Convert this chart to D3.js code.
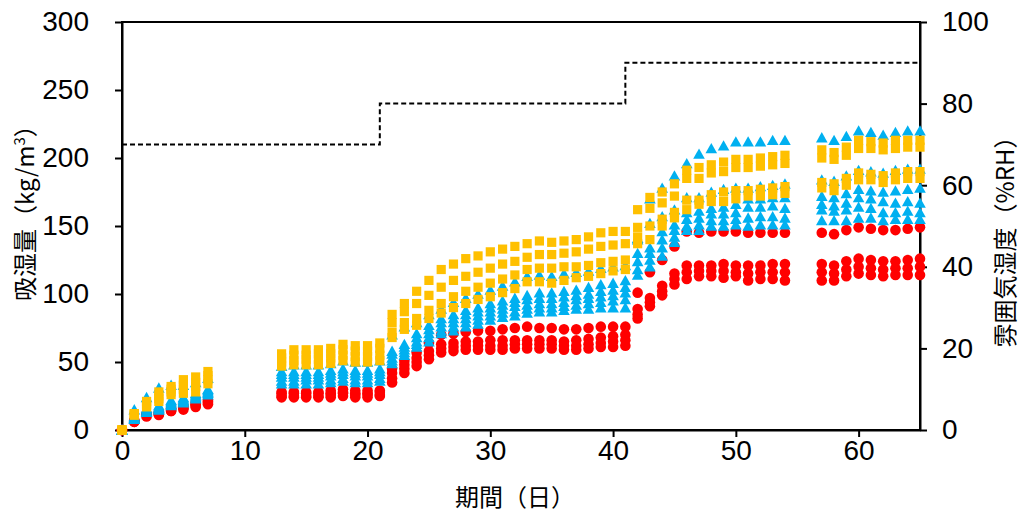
<!DOCTYPE html>
<html>
<head>
<meta charset="utf-8">
<script src="https://cdn.jsdelivr.net/npm/d3@7"></script>
<style>
  html, body { margin: 0; padding: 0; background: #fff; }
  svg { display: block; }
  .tick text { font-family: "Liberation Sans Narrow", "Liberation Sans", Arial, sans-serif; font-stretch: condensed; font-size: 28px; fill: #000; }
  .title { font-family: "Noto Sans CJK JP", sans-serif; font-size: 24px; fill: #000; }
</style>
</head>
<body>
<svg id="chart" width="1027" height="518"></svg>
<script>
// Exposure period in days (measurement days)
const days = [
  0, 1, 2, 3, 4, 5, 6, 7,
  13, 14, 15, 16, 17, 18, 19, 20, 21,
  22, 23, 24, 25, 26, 27, 28, 29, 30, 31, 32, 33, 34, 35, 36, 37, 38, 39, 40, 41,
  42, 43, 44, 45, 46, 47, 48, 49, 50, 51, 52, 53, 54,
  57, 58, 59, 60, 61, 62, 63, 64, 65
];

// Moisture uptake (kg/m3) — red specimens
const red1 = [0, 7, 12, 13, 16, 18, 20, 22,
  28, 28, 28, 28, 29, 30, 29, 29, 29,
  45, 51, 57, 64, 70, 71, 72, 73, 73, 74, 75, 76, 75, 75, 74, 74, 75, 76, 76, 76,
  101, 116, 125, 135, 146, 145, 146, 146, 146, 145, 145, 145, 145,
  145, 144, 147, 149, 148, 147, 147, 148, 149];
const red2 = [0, 7, 11, 12, 15, 17, 19, 21,
  27, 27, 27, 27, 27, 28, 27, 27, 28,
  42, 48, 53, 58, 63, 64, 65, 65, 66, 66, 66, 66, 66, 66, 65, 66, 67, 68, 69, 70,
  89, 97, 106, 115, 121, 121, 121, 122, 121, 121, 121, 122, 122,
  122, 121, 124, 126, 125, 124, 124, 125, 126];
const red3 = [0, 6, 11, 12, 14, 16, 18, 20,
  25, 25, 25, 25, 26, 27, 26, 26, 26,
  38, 45, 50, 55, 60, 61, 62, 62, 62, 62, 63, 63, 63, 63, 62, 62, 63, 64, 65, 66,
  85, 94, 102, 111, 116, 117, 117, 117, 116, 115, 116, 116, 116,
  116, 115, 118, 120, 119, 118, 119, 119, 120];
const red4 = [0, 6, 10, 11, 14, 15, 17, 19,
  24, 24, 24, 24, 24, 25, 24, 24, 25,
  35, 42, 47, 52, 57, 58, 59, 59, 59, 59, 60, 60, 60, 60, 59, 59, 60, 61, 61, 62,
  82, 91, 99, 107, 111, 113, 113, 112, 113, 110, 111, 111, 110,
  110, 110, 113, 115, 114, 113, 114, 114, 114];

// Moisture uptake (kg/m3) — blue specimens
const blue1 = [0, 15, 24, 31, 33, 33, 35, 38,
  47, 48, 48, 48, 49, 51, 50, 50, 51,
  70, 76, 79, 85, 89, 94, 97, 100, 103, 106, 109, 113, 114, 113, 115, 116, 117, 119, 120, 121,
  140, 170, 178, 187, 196, 203, 207, 209, 212, 212, 212, 213, 213,
  215, 213, 216, 220, 219, 217, 219, 220, 220];
const blue2 = [0, 10, 16, 18, 22, 24, 27, 30,
  43, 43, 43, 43, 44, 45, 44, 44, 45,
  58, 63, 71, 77, 82, 85, 88, 90, 93, 95, 97, 99, 101, 101, 102, 103, 105, 107, 108, 110,
  141, 152, 157, 162, 171, 171, 175, 177, 178, 178, 179, 180, 181,
  184, 183, 187, 191, 190, 189, 191, 192, 192];
const blue3 = [0, 9, 15, 17, 21, 23, 26, 29,
  41, 41, 41, 41, 42, 43, 42, 42, 43,
  56, 61, 68, 74, 79, 82, 85, 87, 90, 92, 94, 96, 97, 97, 98, 99, 100, 102, 103, 105,
  130, 134, 146, 151, 160, 161, 163, 164, 166, 170, 170, 171, 171,
  172, 171, 174, 177, 176, 175, 176, 177, 178];
const blue4 = [0, 9, 14, 16, 20, 22, 25, 28,
  39, 39, 39, 39, 40, 41, 40, 40, 41,
  53, 59, 65, 71, 76, 79, 82, 84, 87, 89, 91, 92, 93, 93, 94, 96, 97, 98, 99, 101,
  124, 130, 140, 147, 155, 156, 159, 159, 160, 164, 164, 165, 163,
  166, 165, 167, 171, 170, 168, 167, 168, 167];
const blue5 = [0, 8, 13, 15, 19, 21, 24, 27,
  36, 36, 37, 37, 37, 38, 37, 37, 38,
  51, 57, 63, 68, 73, 76, 79, 81, 84, 86, 87, 89, 90, 90, 91, 92, 93, 94, 95, 96,
  118, 125, 134, 142, 150, 151, 154, 154, 155, 156, 157, 157, 156,
  162, 161, 162, 164, 163, 160, 160, 161, 160];
const blue6 = [0, 8, 13, 15, 18, 20, 23, 26,
  34, 34, 34, 34, 35, 36, 35, 35, 36,
  49, 55, 61, 65, 71, 73, 76, 78, 81, 83, 84, 86, 87, 87, 88, 89, 89, 90, 90, 90,
  114, 120, 128, 138, 147, 147, 150, 150, 151, 150, 151, 151, 151,
  154, 154, 154, 156, 156, 154, 155, 155, 155];

// Moisture uptake (kg/m3) — yellow specimens
const yellow1 = [0, 12, 21, 28, 32, 37, 39, 43,
  56, 59, 59, 59, 60, 63, 62, 62, 64,
  85, 93, 102, 110, 118, 122, 126, 128, 131, 133, 135, 137, 139, 138, 139, 140, 142, 145, 146, 146,
  162, 171, 175, 181, 191, 193, 195, 197, 199, 199, 200, 201, 202,
  206, 204, 208, 213, 212, 211, 213, 213, 213];
const yellow2 = [0, 12, 19, 25, 30, 33, 35, 40,
  53, 55, 55, 56, 56, 59, 58, 58, 60,
  79, 87, 93, 99, 105, 110, 113, 116, 119, 122, 124, 127, 129, 129, 130, 131, 133, 135, 136, 137,
  149, 163, 167, 172, 185, 185, 189, 190, 193, 193, 194, 195, 196,
  200, 199, 202, 207, 207, 206, 207, 208, 208];
const yellow3 = [0, 11, 18, 23, 28, 30, 32, 37,
  50, 51, 52, 52, 53, 55, 54, 54, 55,
  72, 79, 82, 88, 93, 98, 102, 105, 108, 111, 114, 118, 119, 119, 120, 120, 121, 123, 124, 125,
  142, 150, 155, 160, 169, 169, 173, 175, 176, 176, 177, 178, 179,
  182, 181, 185, 189, 188, 187, 189, 190, 190];
const yellow4 = [0, 11, 17, 21, 26, 27, 28, 34,
  47, 48, 48, 48, 49, 51, 50, 50, 51,
  68, 74, 77, 82, 86, 90, 93, 96, 98, 101, 104, 109, 109, 108, 110, 112, 113, 115, 117, 118,
  137, 140, 150, 156, 162, 166, 168, 168, 170, 172, 172, 173, 174,
  178, 176, 180, 184, 184, 182, 184, 185, 185];

// Ambient relative humidity steps (%RH)
const rhDays = [0, 21, 21, 41, 41, 65];
const rhValues = [70, 70, 80, 80, 90, 90];

// Axis ticks
const xTicks = [0, 10, 20, 30, 40, 50, 60];
const yTicks = [0, 50, 100, 150, 200, 250, 300];
const rhTicks = [0, 20, 40, 60, 80, 100];

const svg = d3.select("#chart");
const plot = { left: 122, right: 920, top: 22, bottom: 430 };

const x = d3.scaleLinear().domain([0, 65]).range([plot.left, plot.right]);
const y = d3.scaleLinear().domain([0, 300]).range([plot.bottom, plot.top]);
const yRH = d3.scaleLinear().domain([0, 100]).range([plot.bottom, plot.top]);

// Frame
svg.append("rect")
  .attr("x", plot.left).attr("y", plot.top)
  .attr("width", plot.right - plot.left).attr("height", plot.bottom - plot.top)
  .attr("fill", "none").attr("stroke", "#000").attr("stroke-width", 2);

// Axes
const styleAxis = g => {
  g.select(".domain").attr("stroke", "#000").attr("stroke-width", 2);
  g.selectAll(".tick line").attr("stroke", "#000").attr("stroke-width", 2);
};

svg.append("g")
  .attr("transform", `translate(0,${plot.bottom})`)
  .call(d3.axisBottom(x).tickValues(xTicks).tickSize(7).tickSizeOuter(0).tickPadding(3).tickFormat(d3.format("d")))
  .call(styleAxis);

svg.append("g")
  .attr("transform", `translate(${plot.left},0)`)
  .call(d3.axisLeft(y).tickValues(yTicks).tickSize(7).tickSizeOuter(0).tickPadding(26).tickFormat(d3.format("d")))
  .call(styleAxis);

svg.append("g")
  .attr("transform", `translate(${plot.right},0)`)
  .call(d3.axisRight(yRH).tickValues(rhTicks).tickSize(7).tickSizeOuter(0).tickPadding(15).tickFormat(d3.format("d")))
  .call(styleAxis);

svg.selectAll("g[font-family]").attr("font-family", null).attr("font-size", null);

// Humidity schedule (dashed step line)
const rhLine = d3.line().x((d, i) => x(rhDays[i])).y(d => yRH(d));
svg.append("path")
  .datum(rhValues)
  .attr("d", rhLine)
  .attr("fill", "none")
  .attr("stroke", "#000")
  .attr("stroke-width", 2)
  .attr("stroke-dasharray", "5,3");

// Markers
const markers = {
  circle: "M0,-5.3A5.3,5.3 0 1,1 0,5.3A5.3,5.3 0 1,1 0,-5.3Z",
  triangle: "M0,-5.5L5.8,4.8L-5.8,4.8Z",
  square: "M-4.6,-4.6H4.6V4.6H-4.6Z"
};

const groups = [
  { data: [red1, red2, red3, red4], color: "#FF0000", shape: "circle" },
  { data: [blue1, blue2, blue3, blue4, blue5, blue6], color: "#00B0F0", shape: "triangle" },
  { data: [yellow1, yellow2, yellow3, yellow4], color: "#FFC000", shape: "square" }
];

groups.forEach(grp => {
  grp.data.forEach(series => {
    svg.append("g")
      .selectAll("path")
      .data(series)
      .join("path")
      .attr("transform", (d, i) => `translate(${x(days[i])},${y(d)})`)
      .attr("d", markers[grp.shape])
      .attr("fill", grp.color);
  });
});

// Axis titles
svg.append("text")
  .attr("class", "title")
  .attr("x", 515).attr("y", 506)
  .attr("text-anchor", "middle")
  .text("期間（日）");

const yTitle = svg.append("text")
  .attr("class", "title")
  .attr("transform", "translate(34,207) rotate(-90)")
  .attr("text-anchor", "middle");
yTitle.append("tspan").text("吸湿量（kg/m");
yTitle.append("tspan").attr("font-size", "15px").attr("dy", "-9").text("3");
yTitle.append("tspan").attr("dy", "9").text("）");

svg.append("text")
  .attr("class", "title")
  .attr("transform", "translate(1014,236) rotate(-90)")
  .attr("text-anchor", "middle")
  .text("雰囲気湿度（%RH）");
</script>
</body>
</html>
